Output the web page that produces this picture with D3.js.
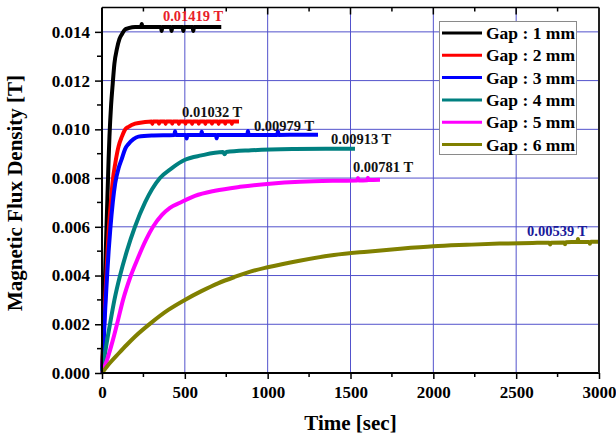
<!DOCTYPE html>
<html>
<head>
<meta charset="utf-8">
<script src="https://d3js.org/d3.v7.min.js"></script>
<style>
  body { margin: 0; background: #fff; }
  svg text { font-family: "Liberation Serif", "Times New Roman", serif; font-weight: bold; }
</style>
</head>
<body>
<div id="viz"></div>
<script>
// Hall probe readings: time [s] -> flux density [T], one list per gap width
var gapLabels = ["Gap : 1 mm", "Gap : 2 mm", "Gap : 3 mm", "Gap : 4 mm", "Gap : 5 mm", "Gap : 6 mm"];
var gapColors = ["#000000", "#ff0000", "#0000ff", "#008080", "#ff00ff", "#808000"];

var gap1 = [[0,0],[5,0.0010],[10,0.0021],[15,0.0032],[20,0.0044],[25,0.0055],[30,0.0066],[35,0.0077],
  [40,0.0088],[45,0.0097],[55,0.0110],[65,0.0119],[75,0.0127],[90,0.0133],[105,0.0137],[120,0.0139],
  [140,0.0141],[160,0.01415],[200,0.0142],[236,0.0142],[240,0.01432],[244,0.0142],[356,0.0142],
  [360,0.01404],[364,0.0142],[416,0.0142],[420,0.01404],[424,0.0142],[487,0.0142],[491,0.01404],
  [495,0.0142],[547,0.0142],[551,0.01404],[555,0.0142],[720,0.0142]];

var gap2 = [[0,0],[10,0.0016],[20,0.0031],[30,0.0045],[40,0.0058],[50,0.0067],[65,0.0079],[80,0.0086],
  [100,0.0093],[120,0.0097],[140,0.0100],[160,0.0101],[200,0.01023],[260,0.0103],[300,0.01032],
  [304,0.01022],[308,0.01032],[340,0.01032],[344,0.01023],[348,0.01032],[380,0.01032],[384,0.01022],
  [388,0.01032],[420,0.01032],[424,0.01023],[428,0.01032],[460,0.01032],[464,0.01022],[468,0.01032],
  [500,0.01032],[504,0.01023],[508,0.01032],[540,0.01032],[544,0.01022],[548,0.01032],[580,0.01032],
  [584,0.01023],[588,0.01032],[620,0.01032],[624,0.01022],[628,0.01032],[660,0.01032],[664,0.01023],
  [668,0.01032],[700,0.01032],[704,0.01022],[708,0.01032],[740,0.01032],[744,0.01023],[748,0.01032],
  [780,0.01032],[784,0.01022],[788,0.01032],[827,0.01032]];

var gap3 = [[0,0],[10,0.0013],[20,0.0027],[30,0.0039],[40,0.0050],[50,0.0059],[65,0.0070],[80,0.0078],
  [100,0.0084],[120,0.0088],[140,0.0092],[160,0.0094],[190,0.0096],[220,0.0097],[300,0.00975],
  [437,0.00977],[441,0.00992],[445,0.00977],[507,0.00977],[511,0.00962],[515,0.00977],
  [598,0.00977],[602,0.00990],[606,0.00977],[688,0.00977],[692,0.00963],[696,0.00977],
  [877,0.00977],[881,0.00993],[885,0.00977],[1058,0.00977],[1062,0.00992],[1066,0.00977],
  [1200,0.00978],[1304,0.00978]];

var gap4 = [[0,0],[25,0.0011],[48,0.0020],[75,0.0030],[109,0.0040],[150,0.0050],[199,0.0060],
  [260,0.0070],[350,0.0080],[420,0.0084],[501,0.00875],[600,0.00893],[730,0.00907],[740,0.00898],
  [750,0.00907],[900,0.00914],[1165,0.00919],[1350,0.0092],[1527,0.0092]];

var gap5 = [[0,0],[30,0.00053],[66,0.00136],[97,0.00218],[127,0.0030],[169,0.0039],[217,0.00472],
  [266,0.00547],[308,0.0060],[362,0.00649],[410,0.00678],[471,0.00699],[561,0.00727],[682,0.00748],
  [833,0.00764],[1014,0.00777],[1195,0.00785],[1437,0.00789],[1540,0.0079],[1545,0.0080],
  [1550,0.0079],[1600,0.00791],[1605,0.00801],[1610,0.00792],[1678,0.00793]];

var gap6 = [[0,0],[50,0.00043],[100,0.0008],[150,0.00116],[200,0.0015],[300,0.00208],[400,0.00259],
  [500,0.0030],[600,0.00336],[700,0.00368],[800,0.00394],[900,0.00417],[1000,0.00434],[1200,0.00462],
  [1400,0.00484],[1600,0.00498],[1800,0.0051],[2000,0.0052],[2200,0.00526],[2400,0.00531],
  [2600,0.00534],[2700,0.00535],[2705,0.00527],[2710,0.00535],[2790,0.00536],[2795,0.00528],
  [2800,0.00537],[2870,0.00538],[2873,0.0055],[2876,0.00538],[2940,0.00538],[2945,0.0053],
  [2950,0.00539],[3000,0.00539]];

var series = [gap1, gap2, gap3, gap4, gap5, gap6];

// peak value call-outs: text, time and flux at the text's left baseline, colour
var noteText = ["0.01419 T", "0.01032 T", "0.00979 T", "0.00913 T", "0.00781 T", "0.00539 T"];
var noteTime = [368, 483, 917, 1383, 1515, 2566];
var noteFlux = [0.01444, 0.01051, 0.00994, 0.00940, 0.00823, 0.00563];
var noteColors = ["#e8202a", "#111111", "#111111", "#111111", "#111111", "#1a1a9a"];

var xTicks = [0, 500, 1000, 1500, 2000, 2500, 3000];
var yTicks = [0, 0.002, 0.004, 0.006, 0.008, 0.010, 0.012, 0.014];

var W = 616, H = 437;
var plotL = 102, plotR = 599, plotT = 7.5, plotB = 373;

var svg = d3.select("#viz").append("svg")
  .attr("width", W).attr("height", H);

var x = d3.scaleLinear().domain([0, 3000]).range([plotL, plotR]);
var y = d3.scaleLinear().domain([0, 0.015]).range([plotB, plotT]);

// grid
var grid = svg.append("g").attr("stroke", "#5252cc").attr("stroke-width", 1);
grid.selectAll(".gx").data(xTicks.slice(1, -1)).enter().append("line")
  .attr("x1", d => x(d)).attr("x2", d => x(d)).attr("y1", plotT).attr("y2", plotB);
grid.selectAll(".gy").data(yTicks.slice(1)).enter().append("line")
  .attr("x1", plotL).attr("x2", plotR).attr("y1", d => y(d)).attr("y2", d => y(d));

// curves
var line = d3.line().x(d => x(d[0])).y(d => y(d[1])).curve(d3.curveMonotoneX);
svg.append("g").selectAll("path").data(series).enter().append("path")
  .attr("d", line)
  .attr("fill", "none")
  .attr("stroke", (d, i) => gapColors[i])
  .attr("stroke-width", 4)
  .attr("stroke-linejoin", "round");

// axes
var xAxis = svg.append("g").attr("transform", "translate(0," + plotB + ")")
  .call(d3.axisBottom(x).tickValues(xTicks).tickSize(6).tickPadding(7).tickFormat(d3.format("d")));
var yAxis = svg.append("g").attr("transform", "translate(" + plotL + ",0)")
  .call(d3.axisLeft(y).tickValues(yTicks).tickSize(7).tickPadding(5).tickFormat(d3.format(".3f")));
[xAxis, yAxis].forEach(function(a) {
  a.select(".domain").remove();
  a.selectAll("line").attr("stroke", "#000").attr("stroke-width", 1.5);
  a.selectAll("text").attr("font-size", 17).attr("fill", "#000")
    .style("font-family", "'Liberation Serif', serif").style("font-weight", "bold");
});

// minor ticks
var xMinor = d3.range(250, 3000, 500);
var yMinor = d3.range(0.001, 0.015, 0.002);
var minor = svg.append("g").attr("stroke", "#000").attr("stroke-width", 1.5);
minor.selectAll(".mb").data(xMinor).enter().append("line")
  .attr("x1", d => x(d)).attr("x2", d => x(d)).attr("y1", plotB).attr("y2", plotB + 4);
minor.selectAll(".mt").data(xMinor).enter().append("line")
  .attr("x1", d => x(d)).attr("x2", d => x(d)).attr("y1", plotT).attr("y2", plotT + 4);
minor.selectAll(".Mt").data(xTicks.slice(1, -1)).enter().append("line")
  .attr("x1", d => x(d)).attr("x2", d => x(d)).attr("y1", plotT).attr("y2", plotT + 7);
minor.selectAll(".ml").data(yMinor).enter().append("line")
  .attr("x1", plotL - 5).attr("x2", plotL).attr("y1", d => y(d)).attr("y2", d => y(d));

// frame
svg.append("line").attr("x1", plotL).attr("x2", plotL).attr("y1", plotT).attr("y2", plotB)
  .attr("stroke", "#000").attr("stroke-width", 2);
svg.append("line").attr("x1", plotL).attr("x2", plotR).attr("y1", plotB).attr("y2", plotB)
  .attr("stroke", "#000").attr("stroke-width", 2);
svg.append("line").attr("x1", plotL).attr("x2", plotR).attr("y1", plotT).attr("y2", plotT)
  .attr("stroke", "#000").attr("stroke-width", 1.5);
svg.append("line").attr("x1", plotR).attr("x2", plotR).attr("y1", plotT).attr("y2", plotB)
  .attr("stroke", "#222").attr("stroke-width", 2);

// call-outs
svg.append("g").selectAll("text").data(noteText).enter().append("text")
  .attr("x", (d, i) => x(noteTime[i]))
  .attr("y", (d, i) => y(noteFlux[i]))
  .attr("fill", (d, i) => noteColors[i])
  .attr("font-size", 14.5)
  .text(d => d);

// legend
var lg = svg.append("g");
lg.append("rect").attr("x", 439.5).attr("y", 21.5).attr("width", 137).attr("height", 133)
  .attr("fill", "#fff").attr("stroke", "#8a8a8a").attr("stroke-width", 1);
var item = lg.selectAll("g").data(gapLabels).enter().append("g")
  .attr("transform", (d, i) => "translate(0," + (33 + i * 22.3) + ")");
item.append("line").attr("x1", 442).attr("x2", 482).attr("y1", 0).attr("y2", 0)
  .attr("stroke", (d, i) => gapColors[i]).attr("stroke-width", 3);
item.append("text").attr("x", 486).attr("y", 6).attr("font-size", 17.5).attr("fill", "#000")
  .text(d => d);

// axis titles
svg.append("text").attr("x", (plotL + plotR) / 2).attr("y", 430)
  .attr("text-anchor", "middle").attr("font-size", 21).text("Time [sec]");
svg.append("text").attr("transform", "translate(22,193) rotate(-90)")
  .attr("text-anchor", "middle").attr("font-size", 21).text("Magnetic Flux Density [T]");
</script>
</body>
</html>
